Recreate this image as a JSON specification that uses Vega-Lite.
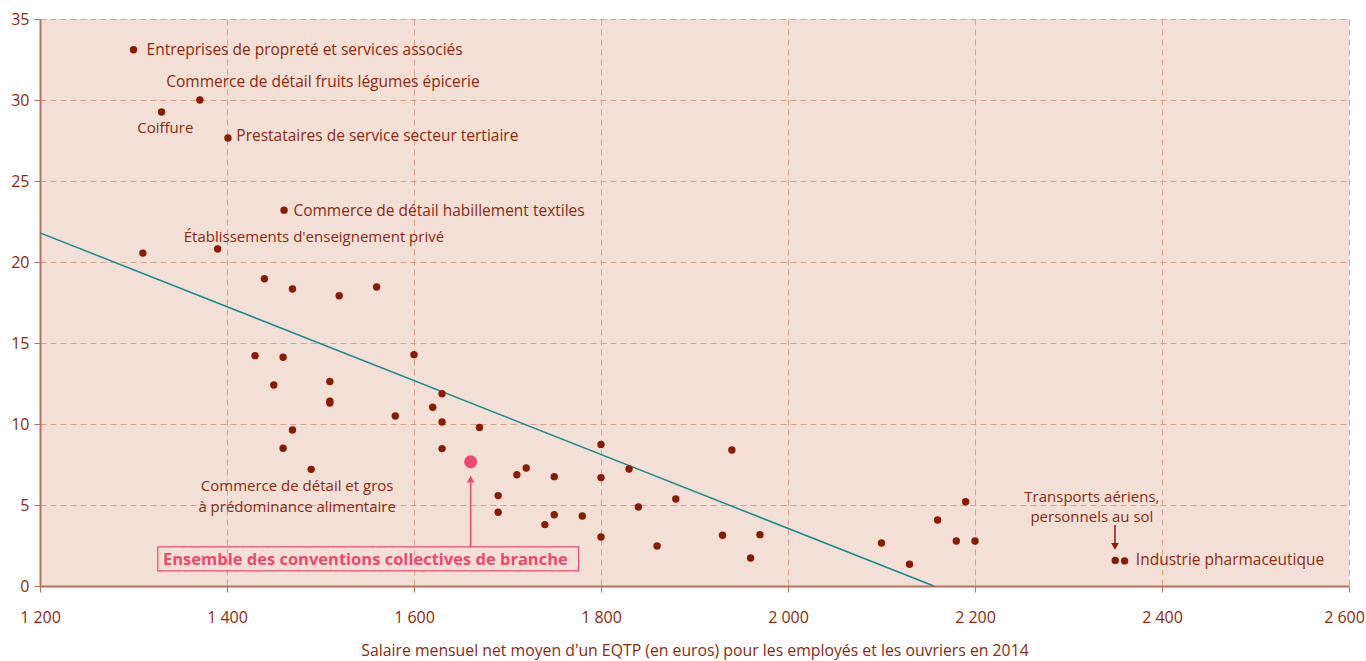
{
  "$schema": "https://vega.github.io/schema/vega-lite/v6.json",
  "width": 1309,
  "height": 567,
  "autosize": {"type": "none"},
  "padding": {"left": 40, "top": 19, "right": 17, "bottom": 75},
  "background": "#ffffff",
  "config": {
    "font": "Open Sans",
    "view": {"fill": "#f2dfd6", "stroke": null},
    "axis": {
      "labelColor": "#8b2a0e",
      "titleColor": "#8b2a0e",
      "labelFont": "Open Sans",
      "titleFont": "Open Sans",
      "labelFontSize": 16,
      "titleFontSize": 15.8,
      "titleFontWeight": "normal",
      "domainColor": "#b8705c",
      "tickColor": "#b8705c",
      "gridColor": "#d9a18c",
      "gridDash": [6, 4],
      "gridWidth": 1
    }
  },
  "datasets": {
    "branches": [
      {"sal": 1300, "taux": 33.1},
      {"sal": 1371, "taux": 30.0},
      {"sal": 1330, "taux": 29.26},
      {"sal": 1401, "taux": 27.65},
      {"sal": 1461, "taux": 23.2},
      {"sal": 1390, "taux": 20.8},
      {"sal": 1310, "taux": 20.55},
      {"sal": 1440, "taux": 18.97},
      {"sal": 1470, "taux": 18.33},
      {"sal": 1520, "taux": 17.92},
      {"sal": 1560, "taux": 18.46},
      {"sal": 1430, "taux": 14.22},
      {"sal": 1460, "taux": 14.12},
      {"sal": 1600, "taux": 14.28},
      {"sal": 1450, "taux": 12.41},
      {"sal": 1510, "taux": 12.63},
      {"sal": 1510, "taux": 11.4},
      {"sal": 1510, "taux": 11.3},
      {"sal": 1630, "taux": 11.87},
      {"sal": 1620, "taux": 11.03},
      {"sal": 1580, "taux": 10.49},
      {"sal": 1630, "taux": 10.12},
      {"sal": 1670, "taux": 9.79},
      {"sal": 1470, "taux": 9.63},
      {"sal": 1460, "taux": 8.5},
      {"sal": 1630, "taux": 8.48},
      {"sal": 1490, "taux": 7.2},
      {"sal": 1710, "taux": 6.87},
      {"sal": 1720, "taux": 7.28},
      {"sal": 1750, "taux": 6.75},
      {"sal": 1800, "taux": 8.74},
      {"sal": 1800, "taux": 6.69},
      {"sal": 1830, "taux": 7.22},
      {"sal": 1940, "taux": 8.4},
      {"sal": 1690, "taux": 5.58},
      {"sal": 1690, "taux": 4.55},
      {"sal": 1740, "taux": 3.79},
      {"sal": 1750, "taux": 4.4},
      {"sal": 1780, "taux": 4.32},
      {"sal": 1800, "taux": 3.02},
      {"sal": 1840, "taux": 4.88},
      {"sal": 1880, "taux": 5.37},
      {"sal": 1860, "taux": 2.47},
      {"sal": 1930, "taux": 3.13},
      {"sal": 1970, "taux": 3.17},
      {"sal": 1960, "taux": 1.73},
      {"sal": 2100, "taux": 2.65},
      {"sal": 2130, "taux": 1.34},
      {"sal": 2160, "taux": 4.07},
      {"sal": 2190, "taux": 5.2},
      {"sal": 2180, "taux": 2.78},
      {"sal": 2200, "taux": 2.78},
      {"sal": 2350, "taux": 1.58},
      {"sal": 2360, "taux": 1.55}
    ],
    "ensemble": [{"sal": 1660.6, "taux": 7.67}],
    "tendance": [{"sal": 1200, "taux": 21.8}, {"sal": 2156, "taux": 0}],
    "labelsLeft": [
      {"txt": "Entreprises de propreté et services associés", "sal": 1314, "taux": 33.1},
      {"txt": "Commerce de détail fruits légumes épicerie", "sal": 1335, "taux": 31.1},
      {"txt": "Prestataires de service secteur tertiaire", "sal": 1410, "taux": 27.78},
      {"txt": "Commerce de détail habillement textiles", "sal": 1471, "taux": 23.15},
      {"txt": "Industrie pharmaceutique", "sal": 2372, "taux": 1.6}
    ],
    "labelsCenter": [
      {"txt": "Coiffure", "sal": 1334, "taux": 28.27},
      {"txt": "Établissements d'enseignement privé", "sal": 1493, "taux": 21.55},
      {"txt": "Commerce de détail et gros", "sal": 1475, "taux": 6.16},
      {"txt": "à prédominance alimentaire", "sal": 1475, "taux": 4.9},
      {"txt": "Transports aériens,", "sal": 2325, "taux": 5.52},
      {"txt": "personnels au sol", "sal": 2325, "taux": 4.24}
    ],
    "boxEnsemble": [{"x1": 1326, "x2": 1776, "y1": 0.93, "y2": 2.41, "txt": "Ensemble des conventions collectives de branche", "xc": 1548, "yc": 1.62}],
    "arrowPink": [{"sal": 1660.6, "y1": 2.41, "y2": 6.5}],
    "arrowPinkHead": [{"sal": 1660.6, "taux": 6.6}],
    "arrowDark": [{"sal": 2349.7, "y1": 3.77, "y2": 2.6}],
    "arrowDarkHead": [{"sal": 2349.7, "taux": 2.45}]
  },
  "layer": [
    {
      "data": {"name": "tendance"},
      "mark": {"type": "line", "color": "#168a8f", "strokeWidth": 1.5},
      "encoding": {
        "x": {
          "field": "sal", "type": "quantitative",
          "scale": {"domain": [1200, 2600], "nice": false, "zero": false},
          "axis": {
            "values": [1200, 1400, 1600, 1800, 2000, 2200, 2400, 2600],
            "labelExpr": "replace(format(datum.value, ','), ',', ' ')",
            "title": "Salaire mensuel net moyen d'un EQTP (en euros) pour les employés et les ouvriers en 2014",
            "labelFontSize": 16,
            "titleFontSize": 15.8,
            "labelOffset": {"condition": {"test": "datum.value == 2600", "value": -5}, "value": 0},
            "domainWidth": 2,
            "tickSize": 6,
            "labelPadding": 17,
            "titlePadding": 18,
            "labelFlush": false,
            "labelOverlap": false
          }
        },
        "y": {
          "field": "taux", "type": "quantitative",
          "scale": {"domain": [0, 35], "nice": false},
          "axis": {
            "values": [0, 5, 10, 15, 20, 25, 30, 35],
            "title": null,
            "labelFontSize": 16,
            "domainWidth": 2,
            "tickSize": 6,
            "labelPadding": 5,
            "labelFlush": false
          }
        }
      }
    },
    {
      "data": {"name": "branches"},
      "mark": {"type": "circle", "color": "#8a1c04", "opacity": 1, "size": 55},
      "encoding": {
        "x": {"field": "sal", "type": "quantitative"},
        "y": {"field": "taux", "type": "quantitative"}
      }
    },
    {
      "data": {"name": "ensemble"},
      "mark": {"type": "circle", "color": "#f2466f", "opacity": 1, "size": 170},
      "encoding": {
        "x": {"field": "sal", "type": "quantitative"},
        "y": {"field": "taux", "type": "quantitative"}
      }
    },
    {
      "data": {"name": "boxEnsemble"},
      "mark": {"type": "rect", "fill": null, "fillOpacity": 0, "stroke": "#f2466f", "strokeWidth": 1.2},
      "encoding": {
        "x": {"field": "x1", "type": "quantitative"},
        "x2": {"field": "x2"},
        "y": {"field": "y1", "type": "quantitative"},
        "y2": {"field": "y2"}
      }
    },
    {
      "data": {"name": "boxEnsemble"},
      "mark": {"type": "text", "color": "#f2466f", "fontSize": 16.5, "fontWeight": "bold", "align": "center", "baseline": "middle"},
      "encoding": {
        "x": {"field": "xc", "type": "quantitative"},
        "y": {"field": "yc", "type": "quantitative"},
        "text": {"field": "txt"}
      }
    },
    {
      "data": {"name": "arrowPink"},
      "mark": {"type": "rule", "color": "#f2466f", "strokeWidth": 1.5},
      "encoding": {
        "x": {"field": "sal", "type": "quantitative"},
        "y": {"field": "y1", "type": "quantitative"},
        "y2": {"field": "y2"}
      }
    },
    {
      "data": {"name": "arrowPinkHead"},
      "mark": {"type": "point", "shape": "triangle-up", "filled": true, "color": "#f2466f", "opacity": 1, "size": 60},
      "encoding": {
        "x": {"field": "sal", "type": "quantitative"},
        "y": {"field": "taux", "type": "quantitative"}
      }
    },
    {
      "data": {"name": "arrowDark"},
      "mark": {"type": "rule", "color": "#8a1c04", "strokeWidth": 1.5},
      "encoding": {
        "x": {"field": "sal", "type": "quantitative"},
        "y": {"field": "y1", "type": "quantitative"},
        "y2": {"field": "y2"}
      }
    },
    {
      "data": {"name": "arrowDarkHead"},
      "mark": {"type": "point", "shape": "triangle-down", "filled": true, "color": "#8a1c04", "opacity": 1, "size": 60},
      "encoding": {
        "x": {"field": "sal", "type": "quantitative"},
        "y": {"field": "taux", "type": "quantitative"}
      }
    },
    {
      "data": {"name": "labelsLeft"},
      "mark": {"type": "text", "color": "#8b2a0e", "fontSize": 15.5, "align": "left", "baseline": "middle"},
      "encoding": {
        "x": {"field": "sal", "type": "quantitative"},
        "y": {"field": "taux", "type": "quantitative"},
        "text": {"field": "txt"}
      }
    },
    {
      "data": {"name": "labelsCenter"},
      "mark": {"type": "text", "color": "#8b2a0e", "fontSize": 15, "align": "center", "baseline": "middle"},
      "encoding": {
        "x": {"field": "sal", "type": "quantitative"},
        "y": {"field": "taux", "type": "quantitative"},
        "text": {"field": "txt"}
      }
    }
  ]
}
